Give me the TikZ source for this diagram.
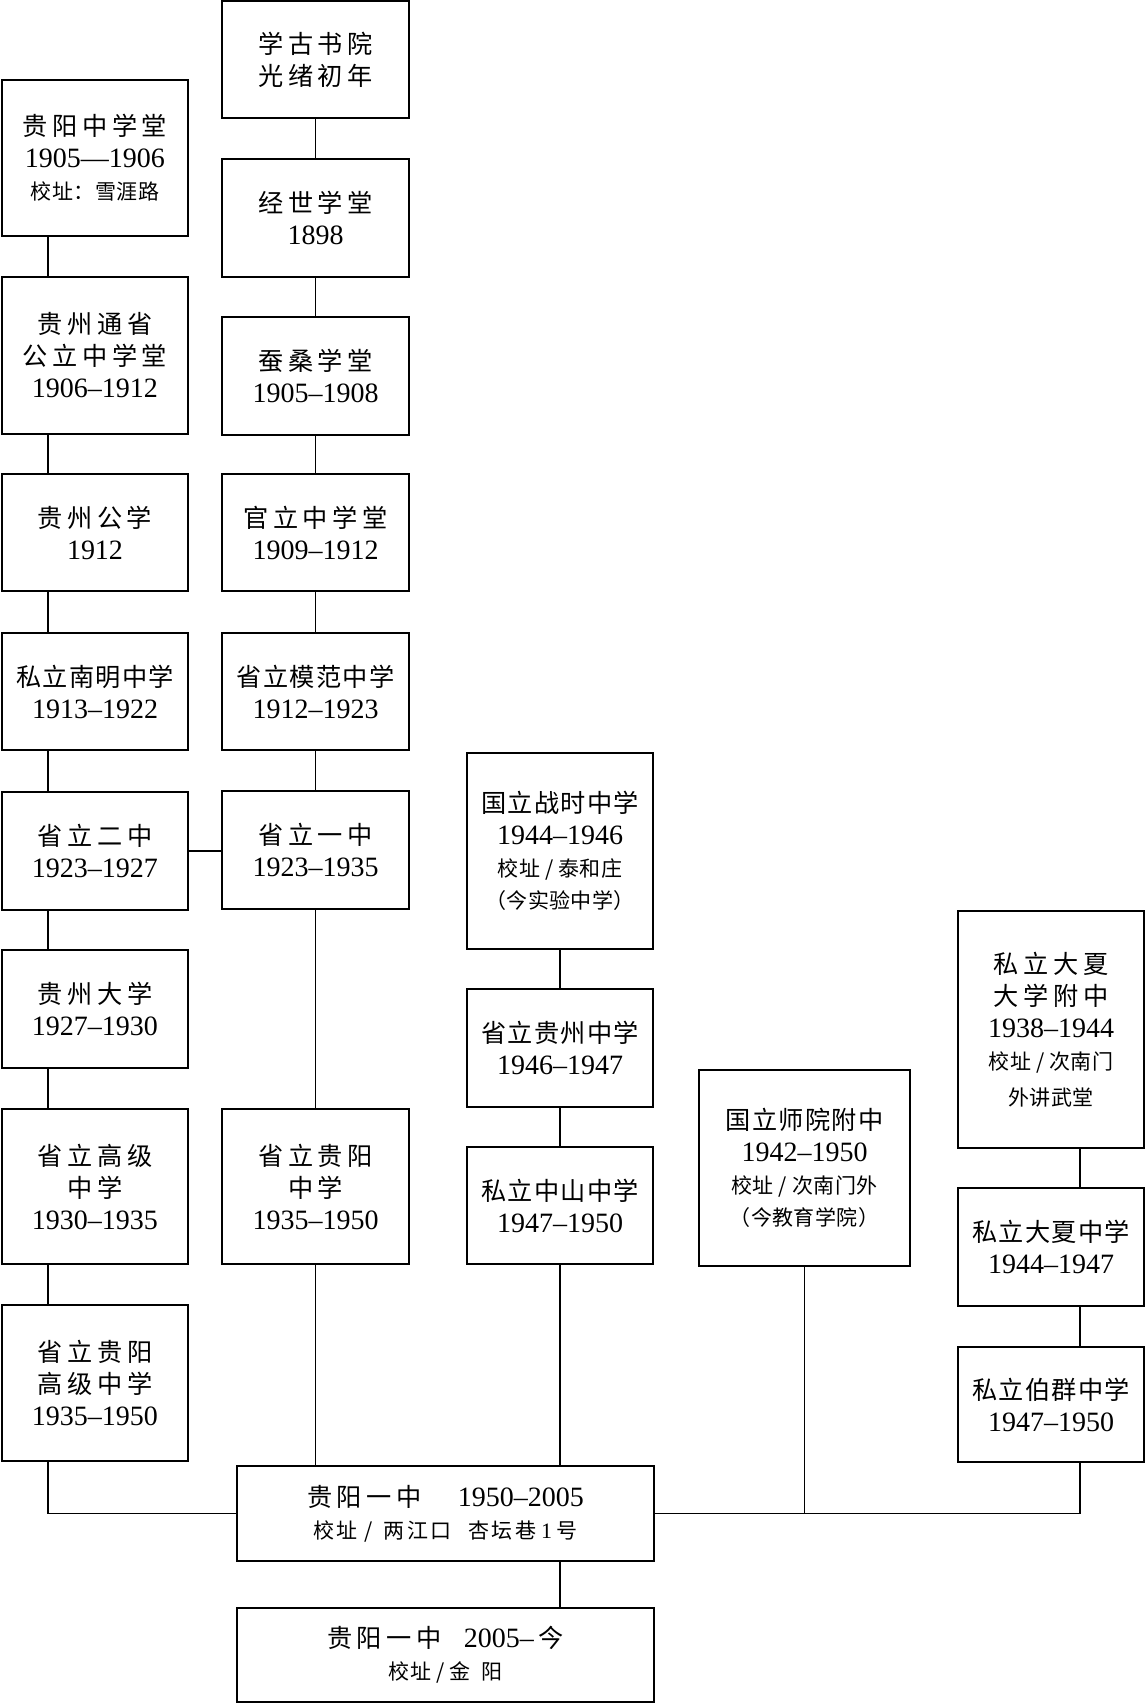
\documentclass[tikz,border=0pt]{standalone}
\usepackage{fontspec}
\setmainfont{Liberation Serif}
\newfontfamily\cjk{Noto Sans CJK SC}[LetterSpace=5]
\newfontfamily\cjkl{Noto Sans CJK SC}[LetterSpace=18]
\newfontfamily\cjks{Noto Sans CJK SC}[LetterSpace=2]
\newfontfamily\cjkw{Noto Sans CJK SC}[LetterSpace=12]
\newcommand\zh[1]{{\fontsize{12.6}{16}\selectfont\cjk #1}}
\newcommand\zl[1]{{\fontsize{12.6}{16}\selectfont\cjkl #1}}
\newcommand\zs[1]{{\fontsize{10.5}{16}\selectfont\cjks #1}}
\newcommand\zw[1]{{\fontsize{10.5}{16}\selectfont\cjkw #1}}
\begin{document}
\begin{tikzpicture}[x=0.5pt,y=-0.5pt,
  box/.style={draw, line width=0.8pt, inner sep=0pt, align=center,
    font=\fontsize{14}{16}\selectfont},
  colL/.style={box, minimum width=93pt},
  colC/.style={box, minimum width=93.5pt},
  link/.style={line width=0.8pt}]
\useasboundingbox (0,0) rectangle (1145,1704);
\coordinate (lx) at (48,0);
\coordinate (rx) at (1080,0);
% left column
\node[colL, minimum height=78pt]   (L1) at (95,158)    {\zl{贵阳中学堂}\\1905—1906\\\zs{校址：雪涯路}};
\node[colL, minimum height=78.5pt] (L2) at (95,355.5)  {\zl{贵州通省}\\\zl{公立中学堂}\\1906–1912};
\node[colL, minimum height=58.5pt] (L3) at (95,532.5)  {\zl{贵州公学}\\1912};
\node[colL, minimum height=58.5pt] (L4) at (95,691.5)  {\zh{私立南明中学}\\1913–1922};
\node[colL, minimum height=59pt]   (L5) at (95,851)    {\zl{省立二中}\\1923–1927};
\node[colL, minimum height=59pt]   (L6) at (95,1009)   {\zl{贵州大学}\\1927–1930};
\node[colL, minimum height=77.5pt] (L7) at (95,1186.5) {\zl{省立高级}\\\zl{中学}\\1930–1935};
\node[colL, minimum height=78pt]   (L8) at (95,1383)   {\zl{省立贵阳}\\\zl{高级中学}\\1935–1950};
% centre column
\node[colC, minimum height=58.5pt] (C1) at (315.5,59.5)   {\zl{学古书院}\\\zl{光绪初年}};
\node[colC, minimum height=59pt]   (C2) at (315.5,218)    {\zl{经世学堂}\\1898};
\node[colC, minimum height=59pt]   (C3) at (315.5,376)    {\zl{蚕桑学堂}\\1905–1908};
\node[colC, minimum height=58.5pt] (C4) at (315.5,532.5)  {\zl{官立中学堂}\\1909–1912};
\node[colC, minimum height=58.5pt] (C5) at (315.5,691.5)  {\zh{省立模范中学}\\1912–1923};
\node[colC, minimum height=59pt]   (C6) at (315.5,850)    {\zl{省立一中}\\1923–1935};
\node[colC, minimum height=77.5pt] (C7) at (315.5,1186.5) {\zl{省立贵阳}\\\zl{中学}\\1935–1950};
% third column
\node[colL, minimum height=98pt]   (T1) at (560,851)    {\zh{国立战时中学}\\1944–1946\\\zs{校址 / 泰和庄}\\\zs{（今实验中学）}};
\node[colL, minimum height=59pt]   (T2) at (560,1048)   {\zh{省立贵州中学}\\1946–1947};
\node[colL, minimum height=58.5pt] (T3) at (560,1205.5) {\zh{私立中山中学}\\1947–1950};
% fourth
\node[box, minimum width=105.5pt, minimum height=98pt] (F) at (804.5,1168)
  {\zh{国立师院附中}\\1942–1950\\\zs{校址 / 次南门外}\\\zs{（今教育学院）}};
% right column
\node[colL, minimum height=118.5pt] (R1) at (1051,1029.5) {\zl{私立大夏}\\\zl{大学附中}\\1938–1944\\\zs{校址 / 次南门}\\[2pt]\zs{外讲武堂}};
\node[colL, minimum height=59pt]    (R2) at (1051,1247)   {\zh{私立大夏中学}\\1944–1947};
\node[colL, minimum height=57.5pt]  (R3) at (1051,1404.5) {\zh{私立伯群中学}\\1947–1950};
% bottom
\node[box, minimum width=208.5pt, minimum height=47.5pt] (B1) at (445.5,1513.5)
  {\zl{贵阳一中}\hspace{1.3em}1950–2005\\\zw{校址 /\enspace 两江口\hspace{0.8em}杏坛巷}\,{\fontsize{11}{16}\selectfont 1}\,\zw{号}};
\node[box, minimum width=208.5pt, minimum height=47pt] (B2) at (445.5,1655)
  {\zl{贵阳一中}\hspace{0.8em}2005–\,\zh{今}\\\zs{校址 / 金\enspace 阳}};
% connectors
\foreach \a/\b in {L1/L2,L2/L3,L3/L4,L4/L5,L5/L6,L6/L7,L7/L8}
  \draw[link] (\a.south -| lx) -- (\b.north -| lx);
\foreach \a/\b in {C1/C2,C2/C3,C3/C4,C4/C5,C5/C6,C6/C7}
  \draw[link] (\a.south) -- (\b.north);
\draw[link] (C7.south) -- (B1.north -| C7.south);
\foreach \a/\b in {T1/T2,T2/T3}
  \draw[link] (\a.south) -- (\b.north);
\draw[link] (T3.south) -- (B1.north -| T3.south);
\foreach \a/\b in {R1/R2,R2/R3}
  \draw[link] (\a.south -| rx) -- (\b.north -| rx);
\draw[link] (L5.east) -- (L5.east -| C6.west);
\draw[link] (L8.south -| lx) |- (B1.west);
\draw[link] (R3.south -| rx) |- (B1.east);
\draw[link] (F.south) -- (F.south |- B1.east);
\draw[link] (B1.south -| T3.south) -- (B2.north -| T3.south);
\end{tikzpicture}
\end{document}
